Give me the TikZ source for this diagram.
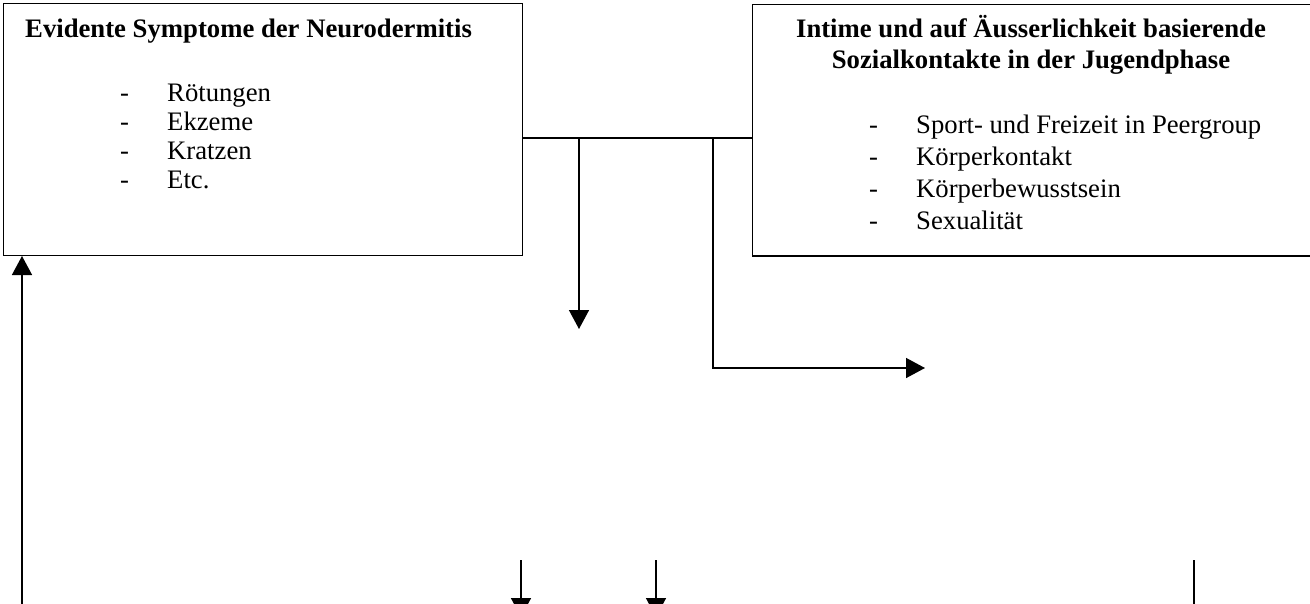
\documentclass[tikz,border=0pt]{standalone}
\usepackage{fontspec}
\setmainfont{Liberation Serif}
\usetikzlibrary{arrows.meta}
\begin{document}
\begin{tikzpicture}[x=1pt,y=-1pt,
  box/.style={draw, line width=1pt, rectangle, inner sep=0pt, anchor=north west},
  txt/.style={inner sep=0pt, anchor=base west, font=\fontsize{26.7}{30}\selectfont},
  ttl/.style={inner sep=0pt, anchor=base, font=\fontsize{26.7}{30}\selectfont\bfseries},
  ttll/.style={inner sep=0pt, anchor=base west, font=\fontsize{26.7}{30}\selectfont\bfseries},
  con/.style={line width=1.5pt},
  arr/.style={con, -{Triangle[length=19pt,width=20pt]}}]
\useasboundingbox (0,0) rectangle (1310,603);
\clip (0,0) rectangle (1310,603);
% boxes
\node[box, minimum width=519pt, minimum height=252pt] (L) at (3,3) {};
\node[box, minimum width=600pt, minimum height=251pt] (R) at (752,4) {};
\draw[line width=2pt] (R.south west) -- (R.south east);
% left box text
\node[ttll] (lt) at (25,37) {Evidente Symptome der Neurodermitis};
\node[txt] (ld1) at (120,101) {-};
\node[txt] (li1) at (167,101) {Rötungen};
\node[txt] (ld2) at (120,130) {-};
\node[txt] (li2) at (167,130) {Ekzeme};
\node[txt] (ld3) at (120,159) {-};
\node[txt] (li3) at (167,159) {Kratzen};
\node[txt] (ld4) at (120,188) {-};
\node[txt] (li4) at (167,188) {Etc.};
% right box text
\node[ttl] (rt1) at (1031,37) {Intime und auf Äusserlichkeit basierende};
\node[ttl] (rt2) at (1031,68) {Sozialkontakte in der Jugendphase};
\node[txt] (rd1) at (869,133) {-};
\node[txt] (ri1) at (916,133) {Sport- und Freizeit in Peergroup};
\node[txt] (rd2) at (869,165) {-};
\node[txt] (ri2) at (916,165) {Körperkontakt};
\node[txt] (rd3) at (869,197) {-};
\node[txt] (ri3) at (916,197) {Körperbewusstsein};
\node[txt] (rd4) at (869,229) {-};
\node[txt] (ri4) at (916,229) {Sexualität};
% connectors
\coordinate (a) at (579,138);
\coordinate (b) at (713,138);
\draw[con] (L.east |- a) -- (R.west |- a);
\coordinate (d1) at (579,329);
\draw[arr] (a) -- (d1);
\coordinate (d2) at (925,368);
\draw[arr] (b) |- (d2);
\coordinate (u0) at (22,610);
\draw[arr] (u0) -- (L.south -| u0);
\coordinate (p1) at (521,560);
\coordinate (q1) at (521,617);
\draw[arr] (p1) -- (q1);
\coordinate (p2) at (656,560);
\coordinate (q2) at (656,617);
\draw[arr] (p2) -- (q2);
\coordinate (p3) at (1194,560);
\coordinate (q3) at (1194,610);
\draw[con] (p3) -- (q3);
\end{tikzpicture}
\end{document}
